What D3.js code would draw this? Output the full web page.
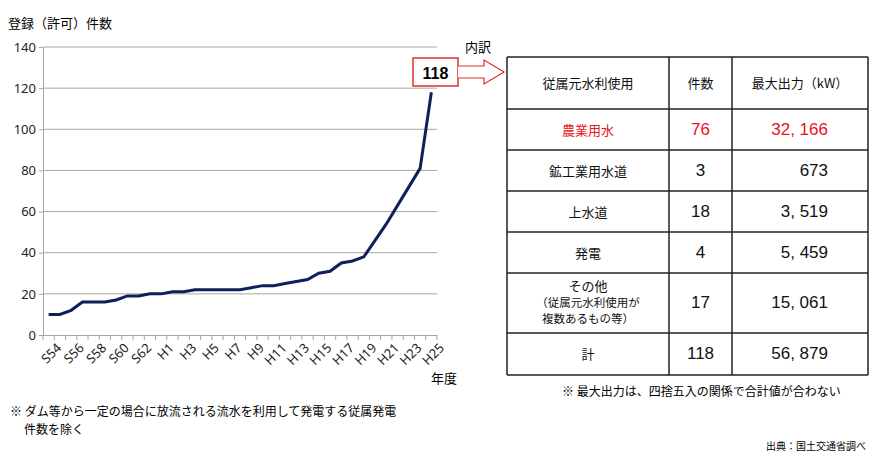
<!DOCTYPE html>
<html><head><meta charset="utf-8">
<script src="https://cdn.jsdelivr.net/npm/d3@7"></script>
<style>body{margin:0;background:#fff}svg{font-family:"Noto Sans CJK JP",sans-serif}</style>
</head><body><svg id="c" width="888" height="466"></svg>
<script>
const years=["S54","S55","S56","S57","S58","S59","S60","S61","S62","S63","H1","H2","H3","H4","H5","H6","H7","H8","H9","H10","H11","H12","H13","H14","H15","H16","H17","H18","H19","H20","H21","H22","H23","H24","H25"];
const counts=[10,10,12,16,16,16,17,19,19,20,20,21,21,22,22,22,22,22,23,24,24,25,26,27,30,31,35,36,38,46,54,63,72,81,118];
const yTicks=[0,20,40,60,80,100,120,140];
const tableHeader=["従属元水利使用","件数","最大出力（kW）"];
const tableRows=[["農業用水","76","32, 166"],["鉱工業用水道","3","673"],["上水道","18","3, 519"],["発電","4","5, 459"],["その他\n（従属元水利使用が\n複数あるもの等）","17","15, 061"],["計","118","56, 879"]];
const svg=d3.select("#c");
const x=d3.scaleBand().domain(years).range([43,437]);
const y=d3.scaleLinear().domain([0,140]).range([335,47]);
const g=svg.append("g");
g.selectAll(".gl").data(yTicks.slice(1)).join("line").attr("x1",43).attr("x2",437).attr("y1",d=>y(d)).attr("y2",d=>y(d)).attr("stroke","#a6a6a6").attr("stroke-width",1);
const ya=g.append("g").attr("transform","translate(43,0)").call(d3.axisLeft(y).tickValues(yTicks).tickSize(4));
ya.selectAll("text").attr("font-size",13).attr("font-family","Noto Sans").attr("fill","#222");
ya.selectAll("line,path").attr("stroke","#a6a6a6");
const xa=g.append("g").attr("transform","translate(0,335)").call(d3.axisBottom(x).tickSizeOuter(0).tickSize(0).tickFormat((d,i)=>i%2===0?d:""));
xa.select("path").attr("stroke","#a6a6a6");
xa.selectAll("text").attr("font-size",13).attr("font-family","Noto Sans").attr("fill","#222").attr("text-anchor","end").attr("transform","translate(5,5) rotate(-45)");
g.selectAll(".tk").data(years.concat(["end"])).join("line").attr("x1",(d,i)=>43+i*x.bandwidth()).attr("x2",(d,i)=>43+i*x.bandwidth()).attr("y1",335).attr("y2",340).attr("stroke","#a6a6a6");
g.append("path").datum(counts).attr("fill","none").attr("stroke","#0e1f5a").attr("stroke-width",3)
 .attr("d",d3.line().x((d,i)=>x(years[i])+x.bandwidth()/2).y(d=>y(d)));
svg.append("text").attr("x",8).attr("y",28).attr("font-size",13).text("登録（許可）件数");
svg.append("text").attr("x",431).attr("y",383).attr("font-size",13).text("年度");
const last=counts[counts.length-1];
svg.append("rect").attr("x",413).attr("y",58).attr("width",45).attr("height",28).attr("fill","#fff").attr("stroke","#e0302a").attr("stroke-width",1.5);
svg.append("text").attr("x",435.5).attr("y",79).attr("text-anchor","middle").attr("font-size",16).attr("font-weight","bold").attr("font-family","Liberation Sans").text(last);
svg.append("path").attr("d","M458,66 L484,66 L484,60 L504,72 L484,84 L484,78 L458,78").attr("fill","#fff").attr("stroke","#e0302a").attr("stroke-width",1.2);
svg.append("text").attr("x",465).attr("y",52).attr("font-size",13).text("内訳");
const cols=[507,669,732,868], rows=[57,109,150,191,232,273,333,375];
const tg=svg.append("g");
const all=[tableHeader].concat(tableRows);
all.forEach((r,ri)=>{
  const red=ri===1;
  r.forEach((c,ci)=>{
    const cx=(cols[ci]+cols[ci+1])/2, cy=(rows[ri]+rows[ri+1])/2;
    const lines=c.split("\n");
    const isNum=ri>0&&ci>0;
    const px=ri>0&&ci===2?828:cx;
    if(lines.length===1){
      tg.append("text").attr("font-size",ri===0?13:(isNum?17:13)).attr("fill",red?"#e8141b":"#111")
        .attr("text-anchor",ri>0&&ci===2?"end":"middle").attr("font-family",isNum?"Liberation Sans Narrow, Liberation Sans":null)
        .attr("x",px).attr("y",cy+5).text(c);
    } else {
      lines.forEach((l,li)=>tg.append("text").attr("text-anchor","middle").attr("fill","#111")
        .attr("x",cx).attr("y",cy-12+li*16).attr("font-size",li===0?13:11.5).text(l));
    }
  });
});
rows.forEach(r=>tg.append("line").attr("x1",cols[0]).attr("x2",cols[3]).attr("y1",r).attr("y2",r).attr("stroke","#222").attr("stroke-width",1.5));
cols.forEach(c=>tg.append("line").attr("x1",c).attr("x2",c).attr("y1",rows[0]).attr("y2",rows[rows.length-1]).attr("stroke","#222").attr("stroke-width",1.5));
svg.append("text").attr("x",562).attr("y",396).attr("font-size",12).text("※ 最大出力は、四捨五入の関係で合計値が合わない");
svg.append("text").attr("x",10).attr("y",416).attr("font-size",12).text("※ ダム等から一定の場合に放流される流水を利用して発電する従属発電");
svg.append("text").attr("x",24).attr("y",434).attr("font-size",12).text("件数を除く");
svg.append("text").attr("x",866).attr("y",450).attr("text-anchor","end").attr("font-size",10).text("出典：国土交通省調べ");
</script></body></html>
